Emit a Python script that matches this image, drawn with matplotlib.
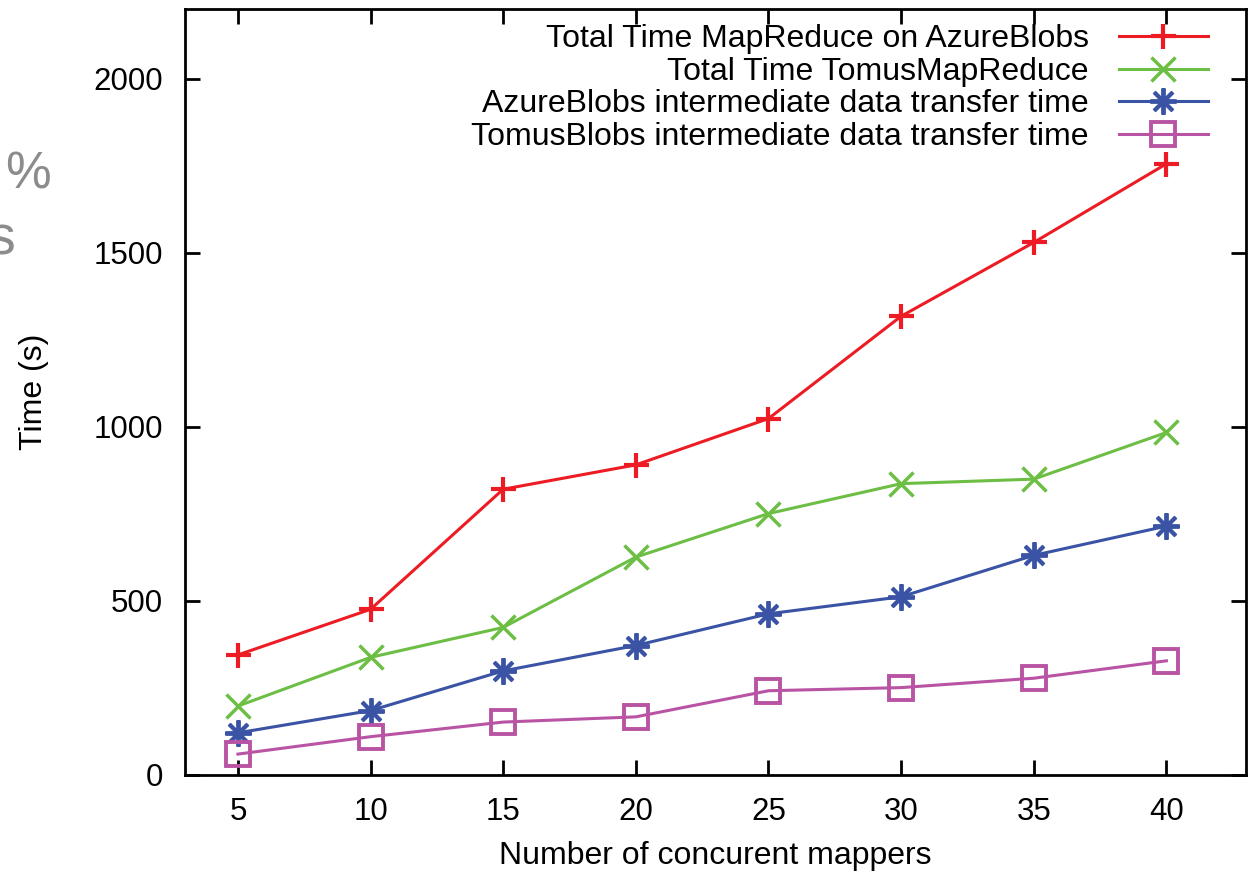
import matplotlib
matplotlib.use("Agg")
import matplotlib.pyplot as plt

plt.rcParams['font.family'] = ['Liberation Sans', 'DejaVu Sans']

# number of concurrent mappers
mappers = [5, 10, 15, 20, 25, 30, 35, 40]

# times in seconds
total_azure = [345, 476, 821, 891, 1024, 1318, 1530, 1756]
total_tomus = [198, 338, 424, 626, 751, 837, 850, 984]
transfer_azure = [121, 185, 299, 372, 463, 512, 631, 715]
transfer_tomus = [60, 110, 152, 167, 242, 251, 278, 328]

labels = ['Total Time MapReduce on AzureBlobs',
          'Total Time TomusMapReduce',
          'AzureBlobs intermediate data transfer time',
          'TomusBlobs intermediate data transfer time']

red = '#ED1C24'
green = '#6DBE45'
blue = '#3A53A4'
magenta = '#B954A4'

fig = plt.figure(figsize=(12.49, 8.74), dpi=100)
ax = fig.add_axes([0.148, 0.1133, 0.8496, 0.8761])

ax.plot(mappers, total_azure, color=red, lw=2.2, marker='+', ms=18, mew=3, label=labels[0])
ax.plot(mappers, total_tomus, color=green, lw=2.2, marker='x', ms=17, mew=2.5, label=labels[1])
ax.plot(mappers, transfer_azure, color=blue, lw=2.2, marker=(8, 2, 0), ms=19, mew=2.8, label=labels[2])
ax.plot(mappers, transfer_tomus, color=magenta, lw=2.2, marker='s', ms=17, mew=2.8,
        mfc='none', label=labels[3])

ax.set_xlim(3, 43)
ax.set_ylim(0, 2200)
ax.set_xticks(mappers)
ax.set_yticks([0, 500, 1000, 1500, 2000])

for s in ax.spines.values():
    s.set_linewidth(2)
ax.tick_params(direction='in', length=11, width=2, top=True, right=True,
               labelsize=22.5, pad=16)

ax.set_xlabel('Number of concurent mappers', fontsize=23, labelpad=10)
ax.set_ylabel('Time (s)', fontsize=23, labelpad=32)

ax.legend(loc='upper right', bbox_to_anchor=(0.9764, 0.997), borderaxespad=0,
          frameon=False, markerfirst=False, fontsize=23,
          handlelength=2.8, handletextpad=0.94, labelspacing=0.08)

# fragments of slide text cut off at the left edge
fig.text(0.004, 0.80, '%', fontsize=37, color='#8c8c8c', ha='left', va='center')
fig.text(0.012, 0.725, 's', fontsize=40, color='#8c8c8c', ha='right', va='center')

fig.savefig('out.png', dpi=100)
